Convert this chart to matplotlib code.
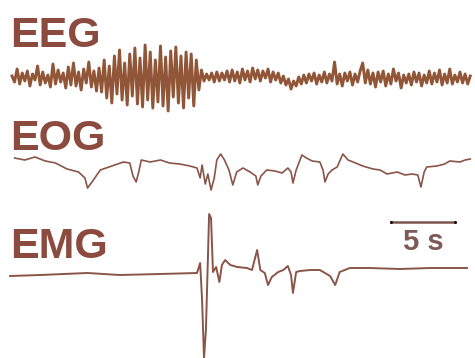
import numpy as np
import matplotlib
matplotlib.use("Agg")
import matplotlib.pyplot as plt

# Sampling step of the EEG trace (seconds)
eegStep = 0.2

# EEG deviations, three stretches: quiet, burst, quiet
eegA = [2, -4, 9, -6, 5, -3, 7, -8, 4, -2, 12, -7, 6, -5, 3, -9, 14, -6, 8, -4,
        5, -10, 11, -7, 15, -8, 6, -12, 9, -5, 16, -9, 7, -13, 10]
eegB = [-14, 18, -20, 12, -25, 22, -16, 28, -22, 15, -27, 24, -18, 30, -26, 20,
        -29, 33, -22, 26, -30, 18, -24, 32, -28, 21, -33, 27, -19, 31, -25, 22,
        -30, 26, -20, 24, -28, 18, -12, 8]
eegC = [-3, 4, -2, 5, -4, 6, -3, 5, -2, 7,
        -4, 8, -3, 6, -5, 9, -2, 7, -4, 10,
        -1, 8, -3, 7, 0, 9, -4, 6, -2, 5,
        -5, 2, -7, -1, -11, -3, -8, 1, -6, 3,
        -5, 4, -3, 5, -6, 3, -4, 6, -5, 4,
        -3, 16, -6, 4, -8, 5, -3, 6, -7, 4,
        -4, 7, 15, -5, 8, -6, 5, -9, 6, -4,
        7, -8, 4, -6, 9, -3, 5, -10, 3, -5,
        4, -7, 6, -4, 5, -8, 3, -5, 7, -6,
        5, -4, 8, -7, 4, -5, 9, -6, 3, -4,
        6, -5, 4, -6, 2]

# EOG (time in s, deviation)
eogT = [0.2, 1.0, 1.8, 2.6, 3.4, 4.3, 5.2, 5.7, 5.9, 6.25, 6.9, 7.8, 8.7, 9.2,
        9.45, 9.7, 9.9, 10.1, 10.8, 11.6, 12.3, 13.1, 13.9, 14.45, 14.7, 14.85,
        15.1, 15.3, 15.55, 15.8, 16.0, 16.3, 16.6, 16.95, 17.25, 17.55, 18.05,
        18.6, 19.05, 19.2, 19.45, 19.9, 20.55, 21.1, 21.55, 21.8, 21.95, 22.2,
        22.65, 23.0, 23.45, 24.05, 24.3, 24.45, 24.7, 25.0, 25.4, 25.85, 26.25,
        26.65, 27.4, 28.2, 28.75, 29.3, 30.1, 30.7, 31.25, 31.7, 31.95, 32.2,
        32.4, 33.2, 33.8, 34.2, 35.0, 35.4, 35.8]
eogV = [4, 2, 5, 1, -1, -7, -10, -16, -26, -20, -8, -4, 0, -1,
        -14, -20, -10, 2, 0, 2, -1, -2, -4, -6, -16, -3,
        -22, -12, -28, -16, 2, 8, 2, -8, -23, -10, -6,
        -10, -14, -23, -14, -8, -9, -11, -6, -10, -21, -8,
        7, 4, 1, 0, -8, -20, -12, -8, -5, 8, 2,
        0, -4, -7, -8, -12, -10, -13, -12, -13, -25, -10,
        -5, -4, -2, 1, 0, 2, 3]

# EMG (time in s, deviation)
emgT = [-0.15, 2.2, 5.9, 8.4, 11.55, 14.45, 14.7, 14.85, 15.0, 15.15, 15.4,
        15.55, 15.7, 15.95, 16.2, 16.4, 16.65, 17.05, 17.6, 18.35, 18.75, 19.15,
        19.4, 19.75, 20.0, 20.3, 20.8, 21.2, 21.55, 21.8, 21.95, 22.2, 22.5,
        23.3, 24.05, 24.85, 25.25, 25.6, 26.4, 27.95, 30.3, 32.65, 35.55]
emgV = [-1, 0, 2, 0, 1, 2, 12, -25, -83, -55, 61,
        57, 3, 8, -7, 10, 15, 10, 8, 7, 5, 25,
        5, 2, -10, -2, 3, 5, 9, 0, -18, 3, 4,
        5, 5, -1, -10, 3, 7, 7, 6, 7, 7]

labels = ["EEG", "EOG", "EMG"]
offsets = [-78, -162, -275]
labelY = [-47, -150, -258]

scaleLen = 5  # seconds
scaleStart = 29.6

eegAll = np.array(eegA + eegB + eegC, dtype=float)
eegT = np.arange(len(eegAll)) * eegStep

traceColor = "#915537"
thinColor = "#8a5548"
textColor = "#8b4b3e"

fig = plt.figure(figsize=(4.75, 3.58), dpi=100)
ax = fig.add_axes([0, 0, 1, 1])
ax.set_xlim(-12 / 12.8, 463 / 12.8)
ax.set_ylim(-358, 0)
ax.axis("off")

ax.plot(eegT, eegAll + offsets[0], color=traceColor, lw=2.1)
ax.plot(eogT, np.array(eogV) + offsets[1], color=thinColor, lw=1.2)
ax.plot(emgT, np.array(emgV) + offsets[2], color=thinColor, lw=1.4)

for lab, ly in zip(labels, labelY):
    ax.text(-0.15, ly, lab, fontsize=31, color=textColor, family="Liberation Sans",
            fontweight="bold", ha="left", va="baseline")

# 5 s scale bar
ax.plot([scaleStart, scaleStart + scaleLen], [-222, -222], color="#7a5550", lw=1.8)
ax.plot([scaleStart, scaleStart + scaleLen], [-222, -222], "k.", ms=2)
ax.text(scaleStart + scaleLen / 2, -250, "5 s", fontsize=21, color="#7d5a55",
        family="Liberation Sans", fontweight="bold", ha="center", va="baseline")

fig.savefig("out.png", dpi=100)
